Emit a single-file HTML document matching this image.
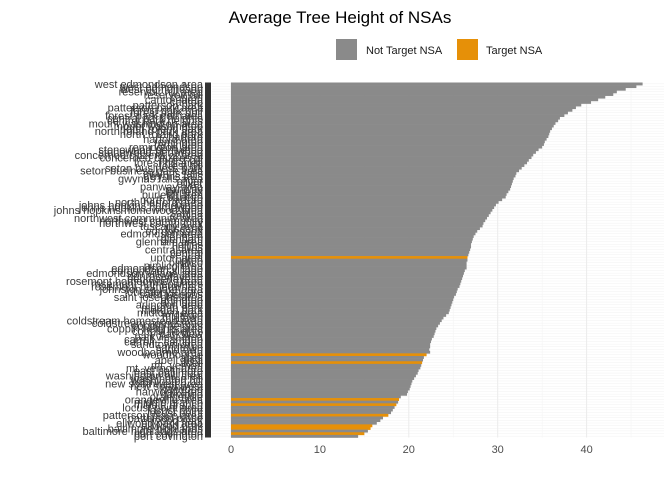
<!DOCTYPE html>
<html><head><meta charset="utf-8"><style>
body{margin:0;background:#fff;font-family:"Liberation Sans",sans-serif}
svg{display:block}
</style></head><body>
<svg id="chart" width="672" height="480">
<text x="340" y="23" text-anchor="middle" font-size="17" fill="#000">Average Tree Height of NSAs</text>
<g>
<rect x="336" y="39" width="21" height="21" fill="#8a8a8a"/>
<text x="366" y="54" font-size="11" fill="#1a1a1a">Not Target NSA</text>
<rect x="457" y="39" width="21" height="21" fill="#e69008"/>
<text x="486" y="54" font-size="11" fill="#1a1a1a">Target NSA</text>
</g>
<g id="grid"></g><g id="bars"></g><g id="labels"></g><g id="xaxis"></g>
</svg>
<script>
const values=[46.3,45.6,44.4,43.4,43.0,42.1,41.3,40.5,39.4,38.8,38.4,
37.9,37.5,37.0,36.8,36.5,36.3,36.1,35.9,35.8,35.7,
35.5,35.3,35.2,35.0,34.6,34.3,34.0,33.8,33.5,33.3,
33.0,32.7,32.4,32.1,32.0,31.8,31.7,31.6,31.5,31.4,
31.2,31.0,30.9,30.5,30.1,29.8,29.6,29.4,29.2,29.0,
28.8,28.6,28.4,28.3,28.0,27.7,27.5,27.3,27.2,27.1,
27.0,27.0,26.9,26.8,26.7,26.6,26.6,26.5,26.5,26.5,
26.3,26.2,26.1,26.0,25.9,25.8,25.7,25.5,25.4,25.3,
25.1,25.0,24.9,24.8,24.7,24.6,24.5,24.2,23.9,23.7,
23.5,23.3,23.1,23.0,22.9,22.8,22.6,22.5,22.4,22.4,
22.3,22.4,22.0,21.7,21.6,21.5,21.4,21.3,21.1,21.0,
20.8,20.6,20.4,20.3,20.2,20.1,19.9,19.8,19.1,18.9,
18.8,18.6,18.4,18.2,18.0,17.7,17.1,16.8,16.4,15.9,
15.7,15.4,15.0,14.3];
const targetIdx=[66,103,106,120,122,126,130,131,133,136];
const knownNames=["west edmondson","reservoir hill","canton","patterson park","forest park golf","central park heights","mount washington","north roland park","harford","remington","stonewood-pentwood","concerned citizens of","forest hill","seton business park","gwynns falls","oliver","panway","burleith","north harford","johns hopkins homewood","sabina","northwest community","tuscany","edmondson","glenham","hollins","central","upton","pimlico","edmondson village","penrose/fayette","rosemont homeowners","johnston square","saint josephs","arlington","morgan park","midtown","coldstream homestead","coppin heights","parkview","carroll - camden","sandtown","woodbourne","abell","mt. vernon","east baltimore","washington hill","new southwest","harwood","orangeville","middle branch","locust point","patterson place","ellwood park","baltimore highlands","port covington"];
const categories=values.map((v,i)=>knownNames[Math.floor(i*knownNames.length/values.length)]+(i%3?"":" area"));
const xTicks=[0,10,20,30,40];
const NS="http://www.w3.org/2000/svg";
const x0=231,pxPer=8.89,yTop=82.5,yBottom=437.5;
const xs=v=>x0+v*pxPer;
const bh=(yBottom-yTop)/values.length;
const ys=i=>yTop+i*bh;
function mk(t,a,p){const e=document.createElementNS(NS,t);for(const k in a)e.setAttribute(k,a[k]);p.appendChild(e);return e;}
const grid=document.getElementById('grid');
for(let i=0;i<values.length;i++){
 const l=mk('line',{x1:212,x2:664,y1:ys(i)+bh/2,y2:ys(i)+bh/2,stroke:'#f2f2f2','stroke-width':0.5},grid);
 
 
}
[5,15,25,35,45].forEach(t=>{const l=mk('line',{x1:xs(t),x2:xs(t),y1:yTop,y2:yBottom,stroke:'#f4f4f4','stroke-width':0.6},grid);
 
 });
xTicks.forEach(t=>{const l=mk('line',{x1:xs(t),x2:xs(t),y1:yTop,y2:yBottom,stroke:'#ebebeb','stroke-width':1},grid);
 
 });
const bars=document.getElementById('bars');
values.forEach((v,i)=>{
 const r=mk('rect',{x:x0,y:ys(i),width:v*pxPer,height:bh+0.3,fill:targetIdx.includes(i)?'#e69008':'#8a8a8a'},bars);
 
 
});
const labels=document.getElementById('labels');
const tk=mk('rect',{x:205,y:yTop,width:6,height:yBottom-yTop,fill:'#333'},labels);


categories.forEach((c,i)=>{
 const t=mk('text',{x:203,y:ys(i)+bh/2+4,'text-anchor':'end','font-size':11,fill:'#3a3a3a'},labels);
 t.textContent=c;
 
 
});
const xa=document.getElementById('xaxis');
xTicks.forEach(t=>{
 const e=mk('text',{x:xs(t),y:453,'text-anchor':'middle','font-size':11,fill:'#4d4d4d'},xa);
 e.textContent=t;
 
 
});
</script>
</body></html>
